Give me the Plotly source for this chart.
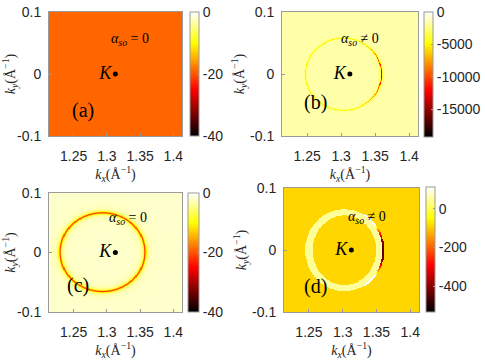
import numpy as np
import plotly.graph_objects as go

# axes
kx_range = [1.213, 1.413]
ky_range = [-0.1, 0.1]
kx_ticks = [1.25, 1.3, 1.35, 1.4]
kx_ticktext = ["1.25", "1.3", "1.35", "1.4"]
ky_ticks = [-0.1, 0, 0.1]
ky_ticktext = ["-0.1", "0", "0.1"]
K_point = [1.3128, 0.0]

# per panel (a), (b), (c), (d)
panel_labels = ["(a)", "(b)", "(c)", "(d)"]
alpha_signs = ["= 0", "≠ 0", "= 0", "≠ 0"]
z_min = [-40, -19300, -40, -535]
z_max = [0, 0, 0, 114]
cbar_tickvals = [[-40, -20, 0], [-15000, -10000, -5000, 0], [-40, -20, 0], [-400, -200, 0]]
background = [-19, -1600, -2, -87]

# Fermi contour (centre, radii in 1/Angstrom)
ring_kx = [None, 1.303, 1.293, 1.302]
ring_ky = [None, 0.0, 0.001, 0.0]
ring_rx = [None, 0.056, 0.064, 0.058]
ring_ry = [None, 0.058, 0.066, 0.066]
ring_width = [None, 0.0008, 0.0016, None]
ring_peak_left = [None, -5500, -21, None]
ring_peak_right = [None, -13000, -21, None]
# panel (d): bright band between inner and outer contour, dark crescent on the right
band_inner_rx = 0.047
band_inner_ry = 0.056
band_value = 50
crescent_top = 114
crescent_bottom = -450

W, H = 485, 363
boxes = [(49, 182, 12, 136), (282, 418, 12, 136), (49, 182, 193, 312), (284, 419, 188, 312)]
cbars = [(190, 199, 12, 136), (424, 433, 12, 137), (188, 199, 193, 312), (426, 435, 187, 312)]


def px(x):
    return x / W


def py(y):
    return 1 - y / H


hot = [[0, "#000000"], [0.375, "#ff0000"], [0.75, "#ffff00"], [1, "#ffffff"]]

kx = np.linspace(kx_range[0], kx_range[1], 241)
ky = np.linspace(ky_range[0], ky_range[1], 241)
X, Y = np.meshgrid(kx, ky)


def panel_field(i):
    z = np.full(X.shape, float(background[i]))
    if ring_kx[i] is None:
        return z
    u = (X - ring_kx[i]) / ring_rx[i]
    v = (Y - ring_ky[i]) / ring_ry[i]
    rho = np.hypot(u, v)
    th = np.arctan2(v, u)
    d = (rho - 1) * 0.06
    if ring_width[i] is not None:
        right = np.clip(np.cos(th), 0, 1) ** 4
        peak = ring_peak_left[i] + (ring_peak_right[i] - ring_peak_left[i]) * right
        z = z + (peak - background[i]) / (1 + (d / ring_width[i]) ** 2)
    else:
        rho_in = np.hypot((X - ring_kx[i]) / band_inner_rx, (Y - ring_ky[i]) / band_inner_ry)
        z[(rho <= 1) & (rho_in >= 1)] = band_value
        c = np.cos(th)
        shell = (rho > 0.975) & (rho < 1.02) & (c > 0.5)
        s = np.clip((c - 0.8) / 0.2, 0, 1) ** 0.7
        cres = crescent_top + (crescent_bottom - crescent_top) * s
        z[shell] = cres[shell]
    return np.round(z, 1)


fig = go.Figure()
tick_font = dict(family="Liberation Sans, Arial", size=14, color="#262626")
serif = "Liberation Serif, Times New Roman"

for i in range(4):
    n = "" if i == 0 else str(i + 1)
    l, r, t, b = boxes[i]
    cl, cr, ct, cb = cbars[i]
    fig.add_trace(go.Heatmap(
        x=kx, y=ky, z=panel_field(i), xaxis="x" + n, yaxis="y" + n,
        colorscale=hot, zmin=z_min[i], zmax=z_max[i], zsmooth="best", hoverinfo="skip",
        colorbar=dict(
            x=px(cl), xanchor="left", thickness=cr - cl, xpad=0, ypad=0,
            y=py(cb), yanchor="bottom", len=cb - ct, lenmode="pixels",
            outlinewidth=1, outlinecolor="#9a9a9a", ticklabeloverflow="allow",
            tickvals=cbar_tickvals[i], ticktext=[str(t_) for t_ in cbar_tickvals[i]],
            ticks="inside", ticklen=2, tickcolor="#9a9a9a", tickfont=tick_font,
        ),
    ))
    fig.add_trace(go.Scatter(
        x=[K_point[0]], y=[K_point[1]], xaxis="x" + n, yaxis="y" + n,
        mode="markers+text", marker=dict(color="black", size=5),
        text=["<i>K</i>"], textposition="middle left",
        textfont=dict(family=serif, size=18, color="black"),
        showlegend=False, hoverinfo="skip",
    ))
    fig.update_layout({
        "xaxis" + n: dict(
            domain=[px(l), px(r)], range=kx_range, anchor="y" + n, automargin=False,
            tickvals=kx_ticks, ticktext=kx_ticktext, ticks="inside", ticklen=3,
            tickcolor="#9a9a9a", tickfont=tick_font, ticklabelstandoff=7,
            ticklabeloverflow="allow",
            showline=True, mirror=True, linecolor="#9a9a9a", showgrid=False, zeroline=False,
            title=dict(text="<i>k</i><sub><i>x</i></sub>(Å<sup>−1</sup>)", standoff=4,
                       font=dict(family=serif, size=14, color="#262626")),
        ),
        "yaxis" + n: dict(
            domain=[py(b), py(t)], range=ky_range, anchor="x" + n, automargin=False,
            tickvals=ky_ticks, ticktext=ky_ticktext, ticks="inside", ticklen=3,
            tickcolor="#9a9a9a", tickfont=tick_font, ticklabelstandoff=4,
            ticklabeloverflow="allow",
            showline=True, mirror=True, linecolor="#9a9a9a", showgrid=False, zeroline=False,
            title=dict(text="<i>k</i><sub><i>y</i></sub>(Å<sup>−1</sup>)", standoff=2,
                       font=dict(family=serif, size=14, color="#262626")),
        ),
    })

label_pos = [(0.16, 0.10), (0.15, 0.16), (0.12, 0.11), (0.13, 0.10)]
alpha_pos = [(0.77, 0.86), (0.73, 0.86), (0.75, 0.87), (0.77, 0.85)]
for i in range(4):
    n = "" if i == 0 else str(i + 1)
    fig.add_annotation(
        x=label_pos[i][0], y=label_pos[i][1], xref="x" + n + " domain", yref="y" + n + " domain",
        text=panel_labels[i], showarrow=False, font=dict(family=serif, size=20, color="black"),
    )
    fig.add_annotation(
        x=alpha_pos[i][0], y=alpha_pos[i][1], xref="x" + n + " domain", yref="y" + n + " domain",
        text="<i>α</i><sub><i>so</i></sub> " + alpha_signs[i], showarrow=False,
        font=dict(family=serif, size=14, color="black"),
    )

fig.update_layout(
    width=W, height=H, margin=dict(l=0, r=0, t=0, b=0, autoexpand=False),
    paper_bgcolor="white", plot_bgcolor="white", showlegend=False,
)
# drop the browser's default 8px body margin so the figure fills the window
fig.write_html("out.html", config={"displayModeBar": False},
               post_script="document.body.style.margin='0';")
